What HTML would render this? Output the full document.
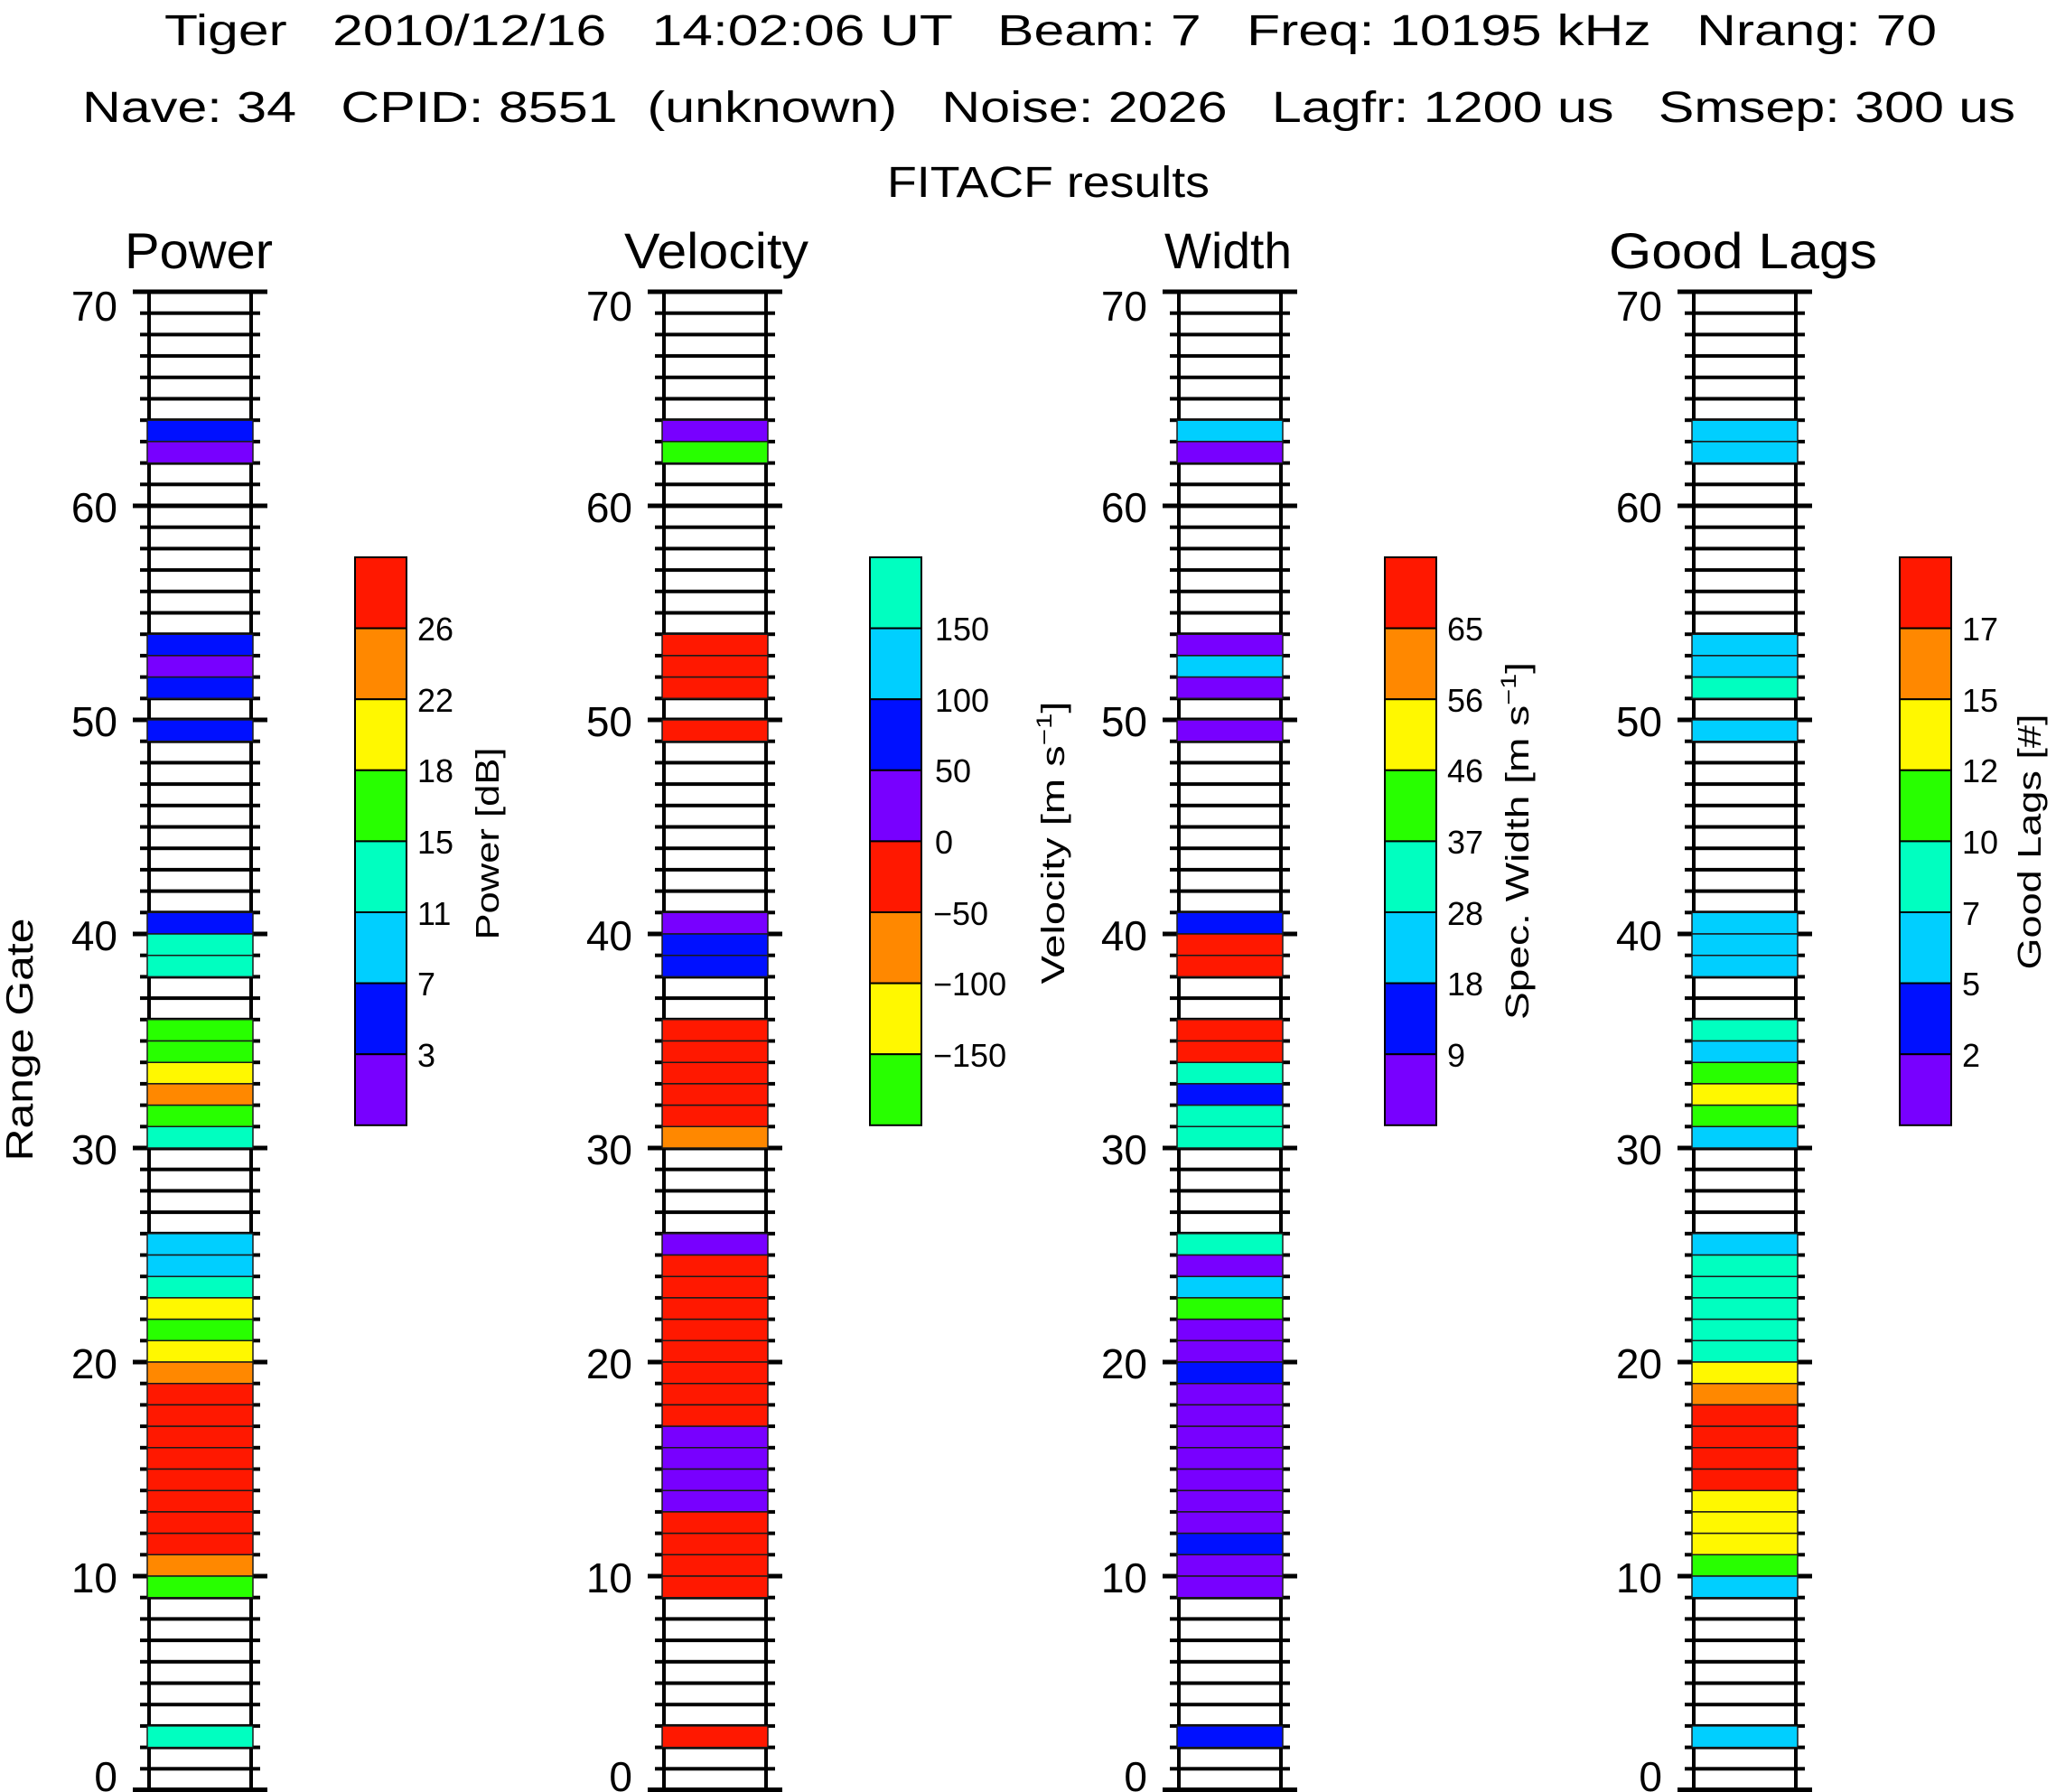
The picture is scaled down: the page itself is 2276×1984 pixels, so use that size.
<!DOCTYPE html>
<html><head><meta charset="utf-8"><style>
html,body{margin:0;padding:0;background:#fff;}
svg{display:block;}
text{font-family:"Liberation Sans",sans-serif;fill:#000;white-space:pre;}
</style></head><body>
<svg width="2276" height="1984" viewBox="0 0 2276 1984" xmlns="http://www.w3.org/2000/svg">
<defs>
<pattern id="gl" patternUnits="userSpaceOnUse" x="0" y="323" width="2276" height="23.7">
<rect x="0" y="0" width="2276" height="2" fill="#000"/>
<rect x="0" y="21.7" width="2276" height="2" fill="#000"/>
</pattern>
<g id="axis">
<rect x="155" y="321" width="133" height="1663" fill="url(#gl)"/>
<rect x="163" y="323" width="4" height="1659" fill="#000"/>
<rect x="276" y="323" width="4" height="1659" fill="#000"/>
<rect x="147" y="320.5" width="149" height="5" fill="#000"/>
<rect x="147" y="557.5" width="149" height="5" fill="#000"/>
<rect x="147" y="794.5" width="149" height="5" fill="#000"/>
<rect x="147" y="1031.5" width="149" height="5" fill="#000"/>
<rect x="147" y="1268.5" width="149" height="5" fill="#000"/>
<rect x="147" y="1505.5" width="149" height="5" fill="#000"/>
<rect x="147" y="1742.5" width="149" height="5" fill="#000"/>
<rect x="147" y="1979" width="149" height="5" fill="#000"/>
</g>
</defs>

<!-- titles -->
<text x="182" y="50" font-size="48" textLength="1962" lengthAdjust="spacingAndGlyphs">Tiger   2010/12/16   14:02:06 UT   Beam: 7   Freq: 10195 kHz   Nrang: 70</text>
<text x="91" y="135" font-size="48" textLength="2140" lengthAdjust="spacingAndGlyphs">Nave: 34   CPID: 8551  (unknown)   Noise: 2026   Lagfr: 1200 us   Smsep: 300 us</text>
<text x="982" y="218" font-size="48" textLength="357" lengthAdjust="spacingAndGlyphs">FITACF results</text>
<text x="138" y="297" font-size="56" textLength="164" lengthAdjust="spacingAndGlyphs">Power</text>
<text x="691" y="297" font-size="56" textLength="204" lengthAdjust="spacingAndGlyphs">Velocity</text>
<text x="1289" y="297" font-size="56" textLength="141" lengthAdjust="spacingAndGlyphs">Width</text>
<text x="1781" y="297" font-size="56" textLength="297" lengthAdjust="spacingAndGlyphs">Good Lags</text>

<text transform="translate(36,1151) rotate(-90)" text-anchor="middle" font-size="42" textLength="269" lengthAdjust="spacingAndGlyphs">Range Gate</text>

<!-- axes -->
<use href="#axis" x="0"/>
<use href="#axis" x="570"/>
<use href="#axis" x="1140"/>
<use href="#axis" x="1710"/>

<!-- tick labels -->
<g font-size="46" text-anchor="end">
<g id="tl">
<text x="130" y="355">70</text>
<text x="130" y="578">60</text>
<text x="130" y="815">50</text>
<text x="130" y="1052">40</text>
<text x="130" y="1289">30</text>
<text x="130" y="1526">20</text>
<text x="130" y="1763">10</text>
<text x="130" y="1983">0</text>
</g>
<g transform="translate(570,0)"><text x="130" y="355">70</text><text x="130" y="578">60</text><text x="130" y="815">50</text><text x="130" y="1052">40</text><text x="130" y="1289">30</text><text x="130" y="1526">20</text><text x="130" y="1763">10</text><text x="130" y="1983">0</text></g>
<g transform="translate(1140,0)"><text x="130" y="355">70</text><text x="130" y="578">60</text><text x="130" y="815">50</text><text x="130" y="1052">40</text><text x="130" y="1289">30</text><text x="130" y="1526">20</text><text x="130" y="1763">10</text><text x="130" y="1983">0</text></g>
<g transform="translate(1710,0)"><text x="130" y="355">70</text><text x="130" y="578">60</text><text x="130" y="815">50</text><text x="130" y="1052">40</text><text x="130" y="1289">30</text><text x="130" y="1526">20</text><text x="130" y="1763">10</text><text x="130" y="1983">0</text></g>
</g>

<!-- cells: gate units -->
<g stroke="#1a1a1a" stroke-width="1.5">
<!-- Power -->
<g transform="translate(0,1982) scale(1,-23.7)">
<rect vector-effect="non-scaling-stroke" x="163" y="63" width="117" height="1" fill="#0010FF"/>
<rect vector-effect="non-scaling-stroke" x="163" y="62" width="117" height="1" fill="#7800FF"/>
<rect vector-effect="non-scaling-stroke" x="163" y="53" width="117" height="1" fill="#0010FF"/>
<rect vector-effect="non-scaling-stroke" x="163" y="52" width="117" height="1" fill="#7800FF"/>
<rect vector-effect="non-scaling-stroke" x="163" y="51" width="117" height="1" fill="#0010FF"/>
<rect vector-effect="non-scaling-stroke" x="163" y="49" width="117" height="1" fill="#0010FF"/>
<rect vector-effect="non-scaling-stroke" x="163" y="40" width="117" height="1" fill="#0010FF"/>
<rect vector-effect="non-scaling-stroke" x="163" y="39" width="117" height="1" fill="#00FFC0"/>
<rect vector-effect="non-scaling-stroke" x="163" y="38" width="117" height="1" fill="#00FFC0"/>
<rect vector-effect="non-scaling-stroke" x="163" y="35" width="117" height="1" fill="#28FF00"/>
<rect vector-effect="non-scaling-stroke" x="163" y="34" width="117" height="1" fill="#28FF00"/>
<rect vector-effect="non-scaling-stroke" x="163" y="33" width="117" height="1" fill="#FFF800"/>
<rect vector-effect="non-scaling-stroke" x="163" y="32" width="117" height="1" fill="#FF8800"/>
<rect vector-effect="non-scaling-stroke" x="163" y="31" width="117" height="1" fill="#28FF00"/>
<rect vector-effect="non-scaling-stroke" x="163" y="30" width="117" height="1" fill="#00FFC0"/>
<rect vector-effect="non-scaling-stroke" x="163" y="25" width="117" height="1" fill="#00CFFF"/>
<rect vector-effect="non-scaling-stroke" x="163" y="24" width="117" height="1" fill="#00CFFF"/>
<rect vector-effect="non-scaling-stroke" x="163" y="23" width="117" height="1" fill="#00FFC0"/>
<rect vector-effect="non-scaling-stroke" x="163" y="22" width="117" height="1" fill="#FFF800"/>
<rect vector-effect="non-scaling-stroke" x="163" y="21" width="117" height="1" fill="#28FF00"/>
<rect vector-effect="non-scaling-stroke" x="163" y="20" width="117" height="1" fill="#FFF800"/>
<rect vector-effect="non-scaling-stroke" x="163" y="19" width="117" height="1" fill="#FF8800"/>
<rect vector-effect="non-scaling-stroke" x="163" y="18" width="117" height="1" fill="#FF1800"/>
<rect vector-effect="non-scaling-stroke" x="163" y="17" width="117" height="1" fill="#FF1800"/>
<rect vector-effect="non-scaling-stroke" x="163" y="16" width="117" height="1" fill="#FF1800"/>
<rect vector-effect="non-scaling-stroke" x="163" y="15" width="117" height="1" fill="#FF1800"/>
<rect vector-effect="non-scaling-stroke" x="163" y="14" width="117" height="1" fill="#FF1800"/>
<rect vector-effect="non-scaling-stroke" x="163" y="13" width="117" height="1" fill="#FF1800"/>
<rect vector-effect="non-scaling-stroke" x="163" y="12" width="117" height="1" fill="#FF1800"/>
<rect vector-effect="non-scaling-stroke" x="163" y="11" width="117" height="1" fill="#FF1800"/>
<rect vector-effect="non-scaling-stroke" x="163" y="10" width="117" height="1" fill="#FF8800"/>
<rect vector-effect="non-scaling-stroke" x="163" y="9" width="117" height="1" fill="#28FF00"/>
<rect vector-effect="non-scaling-stroke" x="163" y="2" width="117" height="1" fill="#00FFC0"/>
</g>
<!-- Velocity -->
<g transform="translate(570,1982) scale(1,-23.7)">
<rect vector-effect="non-scaling-stroke" x="163" y="63" width="117" height="1" fill="#7800FF"/>
<rect vector-effect="non-scaling-stroke" x="163" y="62" width="117" height="1" fill="#28FF00"/>
<rect vector-effect="non-scaling-stroke" x="163" y="53" width="117" height="1" fill="#FF1800"/>
<rect vector-effect="non-scaling-stroke" x="163" y="52" width="117" height="1" fill="#FF1800"/>
<rect vector-effect="non-scaling-stroke" x="163" y="51" width="117" height="1" fill="#FF1800"/>
<rect vector-effect="non-scaling-stroke" x="163" y="49" width="117" height="1" fill="#FF1800"/>
<rect vector-effect="non-scaling-stroke" x="163" y="40" width="117" height="1" fill="#7800FF"/>
<rect vector-effect="non-scaling-stroke" x="163" y="39" width="117" height="1" fill="#0010FF"/>
<rect vector-effect="non-scaling-stroke" x="163" y="38" width="117" height="1" fill="#0010FF"/>
<rect vector-effect="non-scaling-stroke" x="163" y="35" width="117" height="1" fill="#FF1800"/>
<rect vector-effect="non-scaling-stroke" x="163" y="34" width="117" height="1" fill="#FF1800"/>
<rect vector-effect="non-scaling-stroke" x="163" y="33" width="117" height="1" fill="#FF1800"/>
<rect vector-effect="non-scaling-stroke" x="163" y="32" width="117" height="1" fill="#FF1800"/>
<rect vector-effect="non-scaling-stroke" x="163" y="31" width="117" height="1" fill="#FF1800"/>
<rect vector-effect="non-scaling-stroke" x="163" y="30" width="117" height="1" fill="#FF8800"/>
<rect vector-effect="non-scaling-stroke" x="163" y="25" width="117" height="1" fill="#7800FF"/>
<rect vector-effect="non-scaling-stroke" x="163" y="24" width="117" height="1" fill="#FF1800"/>
<rect vector-effect="non-scaling-stroke" x="163" y="23" width="117" height="1" fill="#FF1800"/>
<rect vector-effect="non-scaling-stroke" x="163" y="22" width="117" height="1" fill="#FF1800"/>
<rect vector-effect="non-scaling-stroke" x="163" y="21" width="117" height="1" fill="#FF1800"/>
<rect vector-effect="non-scaling-stroke" x="163" y="20" width="117" height="1" fill="#FF1800"/>
<rect vector-effect="non-scaling-stroke" x="163" y="19" width="117" height="1" fill="#FF1800"/>
<rect vector-effect="non-scaling-stroke" x="163" y="18" width="117" height="1" fill="#FF1800"/>
<rect vector-effect="non-scaling-stroke" x="163" y="17" width="117" height="1" fill="#FF1800"/>
<rect vector-effect="non-scaling-stroke" x="163" y="16" width="117" height="1" fill="#7800FF"/>
<rect vector-effect="non-scaling-stroke" x="163" y="15" width="117" height="1" fill="#7800FF"/>
<rect vector-effect="non-scaling-stroke" x="163" y="14" width="117" height="1" fill="#7800FF"/>
<rect vector-effect="non-scaling-stroke" x="163" y="13" width="117" height="1" fill="#7800FF"/>
<rect vector-effect="non-scaling-stroke" x="163" y="12" width="117" height="1" fill="#FF1800"/>
<rect vector-effect="non-scaling-stroke" x="163" y="11" width="117" height="1" fill="#FF1800"/>
<rect vector-effect="non-scaling-stroke" x="163" y="10" width="117" height="1" fill="#FF1800"/>
<rect vector-effect="non-scaling-stroke" x="163" y="9" width="117" height="1" fill="#FF1800"/>
<rect vector-effect="non-scaling-stroke" x="163" y="2" width="117" height="1" fill="#FF1800"/>
</g>
<!-- Width -->
<g transform="translate(1140,1982) scale(1,-23.7)">
<rect vector-effect="non-scaling-stroke" x="163" y="63" width="117" height="1" fill="#00CFFF"/>
<rect vector-effect="non-scaling-stroke" x="163" y="62" width="117" height="1" fill="#7800FF"/>
<rect vector-effect="non-scaling-stroke" x="163" y="53" width="117" height="1" fill="#7800FF"/>
<rect vector-effect="non-scaling-stroke" x="163" y="52" width="117" height="1" fill="#00CFFF"/>
<rect vector-effect="non-scaling-stroke" x="163" y="51" width="117" height="1" fill="#7800FF"/>
<rect vector-effect="non-scaling-stroke" x="163" y="49" width="117" height="1" fill="#7800FF"/>
<rect vector-effect="non-scaling-stroke" x="163" y="40" width="117" height="1" fill="#0010FF"/>
<rect vector-effect="non-scaling-stroke" x="163" y="39" width="117" height="1" fill="#FF1800"/>
<rect vector-effect="non-scaling-stroke" x="163" y="38" width="117" height="1" fill="#FF1800"/>
<rect vector-effect="non-scaling-stroke" x="163" y="35" width="117" height="1" fill="#FF1800"/>
<rect vector-effect="non-scaling-stroke" x="163" y="34" width="117" height="1" fill="#FF1800"/>
<rect vector-effect="non-scaling-stroke" x="163" y="33" width="117" height="1" fill="#00FFC0"/>
<rect vector-effect="non-scaling-stroke" x="163" y="32" width="117" height="1" fill="#0010FF"/>
<rect vector-effect="non-scaling-stroke" x="163" y="31" width="117" height="1" fill="#00FFC0"/>
<rect vector-effect="non-scaling-stroke" x="163" y="30" width="117" height="1" fill="#00FFC0"/>
<rect vector-effect="non-scaling-stroke" x="163" y="25" width="117" height="1" fill="#00FFC0"/>
<rect vector-effect="non-scaling-stroke" x="163" y="24" width="117" height="1" fill="#7800FF"/>
<rect vector-effect="non-scaling-stroke" x="163" y="23" width="117" height="1" fill="#00CFFF"/>
<rect vector-effect="non-scaling-stroke" x="163" y="22" width="117" height="1" fill="#28FF00"/>
<rect vector-effect="non-scaling-stroke" x="163" y="21" width="117" height="1" fill="#7800FF"/>
<rect vector-effect="non-scaling-stroke" x="163" y="20" width="117" height="1" fill="#7800FF"/>
<rect vector-effect="non-scaling-stroke" x="163" y="19" width="117" height="1" fill="#0010FF"/>
<rect vector-effect="non-scaling-stroke" x="163" y="18" width="117" height="1" fill="#7800FF"/>
<rect vector-effect="non-scaling-stroke" x="163" y="17" width="117" height="1" fill="#7800FF"/>
<rect vector-effect="non-scaling-stroke" x="163" y="16" width="117" height="1" fill="#7800FF"/>
<rect vector-effect="non-scaling-stroke" x="163" y="15" width="117" height="1" fill="#7800FF"/>
<rect vector-effect="non-scaling-stroke" x="163" y="14" width="117" height="1" fill="#7800FF"/>
<rect vector-effect="non-scaling-stroke" x="163" y="13" width="117" height="1" fill="#7800FF"/>
<rect vector-effect="non-scaling-stroke" x="163" y="12" width="117" height="1" fill="#7800FF"/>
<rect vector-effect="non-scaling-stroke" x="163" y="11" width="117" height="1" fill="#0010FF"/>
<rect vector-effect="non-scaling-stroke" x="163" y="10" width="117" height="1" fill="#7800FF"/>
<rect vector-effect="non-scaling-stroke" x="163" y="9" width="117" height="1" fill="#7800FF"/>
<rect vector-effect="non-scaling-stroke" x="163" y="2" width="117" height="1" fill="#0010FF"/>
</g>
<!-- Good lags -->
<g transform="translate(1710,1982) scale(1,-23.7)">
<rect vector-effect="non-scaling-stroke" x="163" y="63" width="117" height="1" fill="#00CFFF"/>
<rect vector-effect="non-scaling-stroke" x="163" y="62" width="117" height="1" fill="#00CFFF"/>
<rect vector-effect="non-scaling-stroke" x="163" y="53" width="117" height="1" fill="#00CFFF"/>
<rect vector-effect="non-scaling-stroke" x="163" y="52" width="117" height="1" fill="#00CFFF"/>
<rect vector-effect="non-scaling-stroke" x="163" y="51" width="117" height="1" fill="#00FFC0"/>
<rect vector-effect="non-scaling-stroke" x="163" y="49" width="117" height="1" fill="#00CFFF"/>
<rect vector-effect="non-scaling-stroke" x="163" y="40" width="117" height="1" fill="#00CFFF"/>
<rect vector-effect="non-scaling-stroke" x="163" y="39" width="117" height="1" fill="#00CFFF"/>
<rect vector-effect="non-scaling-stroke" x="163" y="38" width="117" height="1" fill="#00CFFF"/>
<rect vector-effect="non-scaling-stroke" x="163" y="35" width="117" height="1" fill="#00FFC0"/>
<rect vector-effect="non-scaling-stroke" x="163" y="34" width="117" height="1" fill="#00CFFF"/>
<rect vector-effect="non-scaling-stroke" x="163" y="33" width="117" height="1" fill="#28FF00"/>
<rect vector-effect="non-scaling-stroke" x="163" y="32" width="117" height="1" fill="#FFF800"/>
<rect vector-effect="non-scaling-stroke" x="163" y="31" width="117" height="1" fill="#28FF00"/>
<rect vector-effect="non-scaling-stroke" x="163" y="30" width="117" height="1" fill="#00CFFF"/>
<rect vector-effect="non-scaling-stroke" x="163" y="25" width="117" height="1" fill="#00CFFF"/>
<rect vector-effect="non-scaling-stroke" x="163" y="24" width="117" height="1" fill="#00FFC0"/>
<rect vector-effect="non-scaling-stroke" x="163" y="23" width="117" height="1" fill="#00FFC0"/>
<rect vector-effect="non-scaling-stroke" x="163" y="22" width="117" height="1" fill="#00FFC0"/>
<rect vector-effect="non-scaling-stroke" x="163" y="21" width="117" height="1" fill="#00FFC0"/>
<rect vector-effect="non-scaling-stroke" x="163" y="20" width="117" height="1" fill="#00FFC0"/>
<rect vector-effect="non-scaling-stroke" x="163" y="19" width="117" height="1" fill="#FFF800"/>
<rect vector-effect="non-scaling-stroke" x="163" y="18" width="117" height="1" fill="#FF8800"/>
<rect vector-effect="non-scaling-stroke" x="163" y="17" width="117" height="1" fill="#FF1800"/>
<rect vector-effect="non-scaling-stroke" x="163" y="16" width="117" height="1" fill="#FF1800"/>
<rect vector-effect="non-scaling-stroke" x="163" y="15" width="117" height="1" fill="#FF1800"/>
<rect vector-effect="non-scaling-stroke" x="163" y="14" width="117" height="1" fill="#FF1800"/>
<rect vector-effect="non-scaling-stroke" x="163" y="13" width="117" height="1" fill="#FFF800"/>
<rect vector-effect="non-scaling-stroke" x="163" y="12" width="117" height="1" fill="#FFF800"/>
<rect vector-effect="non-scaling-stroke" x="163" y="11" width="117" height="1" fill="#FFF800"/>
<rect vector-effect="non-scaling-stroke" x="163" y="10" width="117" height="1" fill="#28FF00"/>
<rect vector-effect="non-scaling-stroke" x="163" y="9" width="117" height="1" fill="#00CFFF"/>
<rect vector-effect="non-scaling-stroke" x="163" y="2" width="117" height="1" fill="#00CFFF"/>
</g>
</g>

<!-- colorbars -->
<g stroke="#000" stroke-width="2">
<g id="cbStd">
<rect x="393" y="617" width="57" height="78.6" fill="#FF1800"/>
<rect x="393" y="695.6" width="57" height="78.6" fill="#FF8800"/>
<rect x="393" y="774.2" width="57" height="78.6" fill="#FFF800"/>
<rect x="393" y="852.8" width="57" height="78.6" fill="#28FF00"/>
<rect x="393" y="931.4" width="57" height="78.6" fill="#00FFC0"/>
<rect x="393" y="1010" width="57" height="78.6" fill="#00CFFF"/>
<rect x="393" y="1088.6" width="57" height="78.6" fill="#0010FF"/>
<rect x="393" y="1167.2" width="57" height="78.6" fill="#7800FF"/>
</g>
<g transform="translate(570,0)">
<rect x="393" y="617" width="57" height="78.6" fill="#00FFC0"/>
<rect x="393" y="695.6" width="57" height="78.6" fill="#00CFFF"/>
<rect x="393" y="774.2" width="57" height="78.6" fill="#0010FF"/>
<rect x="393" y="852.8" width="57" height="78.6" fill="#7800FF"/>
<rect x="393" y="931.4" width="57" height="78.6" fill="#FF1800"/>
<rect x="393" y="1010" width="57" height="78.6" fill="#FF8800"/>
<rect x="393" y="1088.6" width="57" height="78.6" fill="#FFF800"/>
<rect x="393" y="1167.2" width="57" height="78.6" fill="#28FF00"/>
</g>
<use href="#cbStd" x="1140"/>
<use href="#cbStd" x="1710"/>
</g>

<!-- colorbar labels -->
<g font-size="36">
<text x="462" y="709">26</text><text x="462" y="788">22</text><text x="462" y="866">18</text><text x="462" y="945">15</text><text x="462" y="1024">11</text><text x="462" y="1102">7</text><text x="462" y="1181">3</text>
<text x="1035" y="709">150</text><text x="1035" y="788">100</text><text x="1035" y="866">50</text><text x="1035" y="945">0</text><text x="1033" y="1024">−50</text><text x="1033" y="1102">−100</text><text x="1033" y="1181">−150</text>
<text x="1602" y="709">65</text><text x="1602" y="788">56</text><text x="1602" y="866">46</text><text x="1602" y="945">37</text><text x="1602" y="1024">28</text><text x="1602" y="1102">18</text><text x="1602" y="1181">9</text>
<text x="2172" y="709">17</text><text x="2172" y="788">15</text><text x="2172" y="866">12</text><text x="2172" y="945">10</text><text x="2172" y="1024">7</text><text x="2172" y="1102">5</text><text x="2172" y="1181">2</text>
</g>
<g font-size="36" text-anchor="middle">
<text transform="translate(552,934) rotate(-90)" textLength="213" lengthAdjust="spacingAndGlyphs">Power [dB]</text>
<text transform="translate(1178,933) rotate(-90)" textLength="313" lengthAdjust="spacingAndGlyphs">Velocity [m s<tspan font-size="24" dy="-14">−1</tspan><tspan dy="14">]</tspan></text>
<text transform="translate(1692,931) rotate(-90)" textLength="396" lengthAdjust="spacingAndGlyphs">Spec. Width [m s<tspan font-size="24" dy="-14">−1</tspan><tspan dy="14">]</tspan></text>
<text transform="translate(2259,932) rotate(-90)" textLength="283" lengthAdjust="spacingAndGlyphs">Good Lags [#]</text>
</g>
</svg>
</body></html>
